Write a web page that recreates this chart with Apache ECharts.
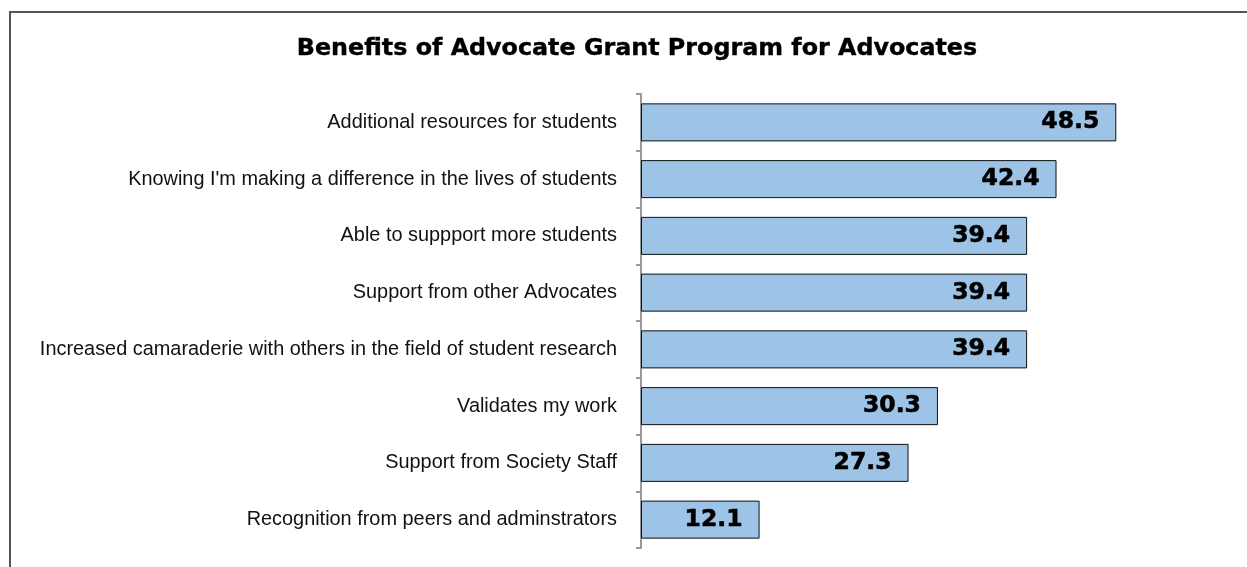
<!DOCTYPE html>
<html>
<head>
<meta charset="utf-8">
<script src="https://cdn.jsdelivr.net/npm/echarts@6/dist/echarts.min.js"></script>
<style>
  html, body { margin: 0; padding: 0; background: #fff; }
  #frame {
    position: absolute; left: 9px; top: 11px; width: 1250px; height: 570px;
    border-left: 2px solid #555; border-top: 2px solid #555; box-sizing: border-box;
  }
  #chart { position: absolute; left: 0; top: 0; width: 1247px; height: 567px; }
</style>
</head>
<body>
<div id="frame"></div>
<div id="chart"></div>
<script>
// Survey responses: share of Advocates naming each benefit (top to bottom)
const categories = [
  'Additional resources for students',
  "Knowing I'm making a difference in the lives of students",
  'Able to suppport more students',
  'Support from other Advocates',
  'Increased camaraderie with others in the field of student research',
  'Validates my work',
  'Support from Society Staff',
  'Recognition from peers and adminstrators'
];
const values = [48.5, 42.4, 39.4, 39.4, 39.4, 30.3, 27.3, 12.1];

const chart = echarts.init(document.getElementById('chart'), null, { renderer: 'canvas' });
chart.setOption({
  animation: false,
  backgroundColor: 'transparent',
  title: {
    text: 'Benefits of Advocate Grant Program for Advocates',
    left: 632,
    top: 32,
    textAlign: 'center',
    textStyle: {
      fontFamily: 'DejaVu Sans', fontWeight: 'bold', fontSize: 23.8, color: '#000',
      textBorderColor: '#000', textBorderWidth: 0.4
    }
  },
  grid: { left: 641, top: 94, width: 588, height: 454, containLabel: false },
  xAxis: {
    type: 'value', min: 0, max: 60, show: false
  },
  yAxis: {
    type: 'category',
    inverse: true,
    data: categories,
    axisLine: { show: true, lineStyle: { color: '#999', width: 2 } },
    axisTick: { show: true, length: 5, lineStyle: { color: '#999', width: 2 } },
    axisLabel: {
      margin: 24,
      fontFamily: 'Liberation Sans',
      fontSize: 19.9,
      color: '#111'
    }
  },
  series: [{
    type: 'bar',
    data: values,
    barCategoryGap: '33%',
    itemStyle: { color: '#9DC3E6', borderColor: '#111', borderWidth: 1 },
    label: {
      show: true,
      position: 'insideRight',
      distance: 17,
      formatter: p => p.value.toFixed(1),
      fontFamily: 'DejaVu Sans',
      fontWeight: 'bold',
      fontSize: 23.5,
      color: '#000',
      textBorderColor: '#000',
      textBorderWidth: 0.6
    }
  }]
});
</script>
</body>
</html>
